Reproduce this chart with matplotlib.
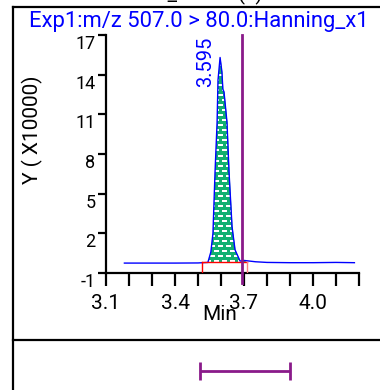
import numpy as np
import matplotlib
matplotlib.use("Agg")
import matplotlib.pyplot as plt
from matplotlib.lines import Line2D

plt.rcParams['font.family'] = ['Roboto', 'DejaVu Sans']

# ---- data ----
title = "Exp1:m/z 507.0 > 80.0:Hanning_x1"
top_text = "ID_Name (x)"
time = [3.18, 3.30, 3.40, 3.50, 3.543, 3.556, 3.565, 3.574, 3.583, 3.587,
        3.596, 3.604, 3.608, 3.613, 3.626, 3.635, 3.648, 3.661, 3.683,
        3.70, 3.75, 3.80, 3.90, 4.00, 4.10, 4.18]
intensity = [-0.25, -0.25, -0.25, -0.24, -0.2, 0.6, 2.0, 6.6, 10.4, 13.6,
             15.3, 14.2, 12.9, 12.7, 10.4, 6.6, 2.5, 0.75, -0.1,
             -0.05, -0.15, -0.2, -0.22, -0.22, -0.2, -0.22]
peak_rt = 3.595
peak_label = "3.595"
peak_height = 15.3
int_start, int_end = 3.517, 3.713
int_base = -0.2
expected_rt = 3.69
window = [3.51, 3.90]
x_ticks = [3.1, 3.2, 3.3, 3.4, 3.5, 3.6, 3.7, 3.8, 3.9, 4.0, 4.1, 4.2]
x_ticklabels = ['3.1', '', '', '3.4', '', '', '3.7', '', '', '4.0', '', '']
y_ticks = [-1, 2, 5, 8, 11, 14, 17]
y_ticklabels = ['-1', '2', '5', '8', '11', '14', '17']

W, H = 380, 390
fig = plt.figure(figsize=(W / 100, H / 100), dpi=100)

def fx(px):
    return px / W

def fy(py):
    return 1 - py / H

ax = fig.add_axes([fx(106), fy(273), (359 - 106) / W, (273 - 35) / H])
ax.set_xlim(3.1, 4.2)
ax.set_ylim(-1, 17)

t = np.array(time)
yv = np.array(intensity)

# green patterned fill of the integrated peak
mask = (t >= int_start) & (t <= int_end)
tt = np.concatenate([[int_start], t[mask], [int_end]])
yy = np.concatenate([[int_base], yv[mask], [int_base]])
yy = np.maximum(yy, int_base)
poly = ax.fill_between(tt, yy, int_base, color='#12b070', lw=0, zorder=2)

# white dash texture clipped to the fill
ph, pw = 238, 253
img = np.zeros((ph, pw, 4))
img[..., 0] = 0x12 / 255
img[..., 1] = 0xb0 / 255
img[..., 2] = 0x70 / 255
img[..., 3] = 1.0
for r0 in range(0, ph, 5):
    off = 4 if (r0 // 5) % 2 else 0
    for c0 in range(-8 + off, pw, 8):
        c1, c2 = max(c0, 0), min(c0 + 5, pw)
        if c2 > c1:
            img[r0:r0 + 2, c1:c2, :3] = 1.0
im = ax.imshow(img, extent=[0, 1, 0, 1], transform=ax.transAxes,
               interpolation='nearest', aspect='auto', zorder=2.5)
im.set_clip_path(poly.get_paths()[0], transform=ax.transData)

# trace
ax.plot(t, yv, color='#0000ff', lw=1.0, zorder=3)

# integration baseline
ax.plot([int_start, int_end], [int_base, int_base], color='#ff0000', lw=1.0, zorder=3)
ax.plot([int_start, int_start], [-1, int_base], color='#ff0000', lw=1.0, zorder=3)
ax.plot([int_end, int_end], [int_base, -0.95], color='#ff8080', lw=1.0, zorder=3)

# expected RT line
ax.axvline(expected_rt, ymin=-0.042, ymax=1, color='#8a1a8a', lw=2.0,
           clip_on=False, zorder=4)

# peak label
ax.text(peak_rt - 0.062, peak_height - 0.3, peak_label, rotation=90,
        color='#0000ff', fontsize=14.5, ha='center', va='center')

ax.set_ylim(-1, 17)
ax.set_xlim(3.1, 4.2)

for s in ['top', 'right']:
    ax.spines[s].set_visible(False)
for s in ['left', 'bottom']:
    ax.spines[s].set_linewidth(1.6)
    ax.spines[s].set_color('black')

ax.set_xticks(x_ticks)
ax.set_xticklabels(x_ticklabels, fontsize=15)
ax.set_yticks(y_ticks)
ax.set_yticklabels(y_ticklabels, fontsize=13)
ax.tick_params(axis='x', direction='out', length=9, width=1.6, pad=6)
ax.tick_params(axis='y', direction='out', length=6, width=1.6, pad=1.5)
for lab in ax.get_yticklabels():
    lab.set_va('top')

ax.set_xlabel("Min", fontsize=15)
ax.xaxis.set_label_coords((220 - 106) / 253, (273 - 315) / 238)
ax.xaxis.label.set_va('center')

# y label and title
fig.text(fx(32), fy(130), "Y ( X10000)", rotation=90, fontsize=15,
         ha='center', va='center')
fig.text(fx(199), fy(22), title, color='#0000ff', fontsize=15.8,
         ha='center', va='center')
fig.text(fx(205), fy(0), top_text, fontsize=15, ha='center', va='baseline')

# frame lines
lw = 1.6
fig.add_artist(Line2D([fx(13), fx(13)], [fy(7), 0], color='black', lw=lw))
fig.add_artist(Line2D([fx(13), 1], [fy(7), fy(7)], color='black', lw=lw))
fig.add_artist(Line2D([fx(13), 1], [fy(340), fy(340)], color='black', lw=lw))

# bottom panel with retention window
ax2 = fig.add_axes([fx(106), 0, (359 - 106) / W, fy(342)])
ax2.set_xlim(3.1, 4.2)
ax2.set_ylim(0, 1)
ax2.axis('off')
wc = (window[0] + window[1]) / 2
ax2.errorbar([wc], [0.4], xerr=[[wc - window[0]], [window[1] - wc]],
             color='#8a1a8a', lw=2.0, capsize=6.5, capthick=2.0, fmt='none')

fig.savefig("out.png", dpi=100)
